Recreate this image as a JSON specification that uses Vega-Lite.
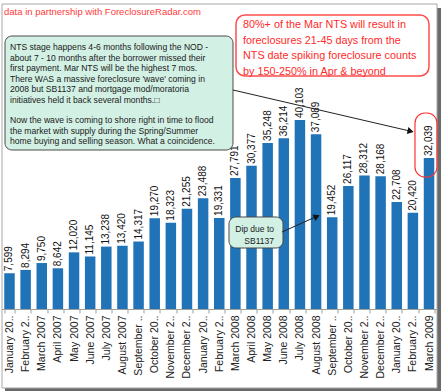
{
  "$schema": "https://vega.github.io/schema/vega-lite/v6.json",
  "width": 435.5,
  "height": 309,
  "autosize": {"type": "none"},
  "padding": {"left": 1.5, "top": 0, "right": 5, "bottom": 82},
  "background": "white",
  "config": {"view": {"stroke": null}, "font": "Liberation Sans"},
  "datasets": {
    "months": [
      {"m": "January 2007", "v": 7599},
      {"m": "February 2007", "v": 8294},
      {"m": "March 2007", "v": 9750},
      {"m": "April 2007", "v": 8642},
      {"m": "May 2007", "v": 12020},
      {"m": "June 2007", "v": 11145},
      {"m": "July 2007", "v": 13238},
      {"m": "August 2007", "v": 13420},
      {"m": "September 2007", "v": 14317},
      {"m": "October 2007", "v": 19270},
      {"m": "November 2007", "v": 18323},
      {"m": "December 2007", "v": 21255},
      {"m": "January 2008", "v": 23488},
      {"m": "February 2008", "v": 19331},
      {"m": "March 2008", "v": 27791},
      {"m": "April 2008", "v": 30377},
      {"m": "May 2008", "v": 35248},
      {"m": "June 2008", "v": 36214},
      {"m": "July 2008", "v": 40103},
      {"m": "August 2008", "v": 37089},
      {"m": "September 2008", "v": 19452},
      {"m": "October 2008", "v": 26117},
      {"m": "November 2008", "v": 28312},
      {"m": "December 2008", "v": 28168},
      {"m": "January 2009", "v": 22708},
      {"m": "February 2009", "v": 20420},
      {"m": "March 2009", "v": 32039}
    ],
    "shadow": [{"x": -0.283, "x2": 26.748, "y": 63867, "y2": -17399}],
    "frame": [{"x": -0.469, "x2": 26.5, "y": 64716, "y2": -16762}],
    "title": [{"x": -0.345, "y": 63018, "t": "data in partnership with ForeclosureRadar.com"}],
    "greenBoxes": [
      {"x": -0.283, "x2": 13.852, "y": 57926, "y2": 33737},
      {"x": 13.604, "x2": 16.952, "y": 19521, "y2": 12943}
    ],
    "greenText": [
      {"x": 0.027, "y": 55529, "t": "NTS stage happens 4-6 months following the NOD -\nabout 7 - 10 months after the borrower missed their\nfirst payment. Mar NTS will be the highest 7 mos.\nThere WAS a massive foreclosure 'wave' coming in\n2008 but SB1137 and mortgage mod/moratoria\ninitiatives held it back several months.\u25a1"},
      {"x": 0.027, "y": 40100, "t": "Now the wave is coming to shore right in time to flood\nthe market with supply during the Spring/Summer\nhome buying and selling season. What a coincidence."}
    ],
    "dipText": [{"x": 16.394, "y": 16975, "t": "Dip due to\nSB1137"}],
    "redBox": [{"x": 14.038, "x2": 26.003, "y": 62382, "y2": 49439}],
    "redText": [{"x": 14.472, "y": 60260, "t": "80%+ of the Mar NTS will result in\nforeclosures 21-45 days from the\nNTS date spiking foreclosure counts\nby 150-250% in Apr & beyond"}],
    "redRing": [{"x": 25.135, "x2": 26.5, "y": 41588, "y2": 28008}],
    "arrowLines": [
      {"x": 13.852, "y": 46468, "x2": 24.863, "y2": 37726},
      {"x": 16.890, "y": 16338, "x2": 19.047, "y2": 19648}
    ],
    "arrowHeads": [
      {"x": 24.863, "y": 37726, "a": 13},
      {"x": 19.047, "y": 19648, "a": -24}
    ]
  },
  "resolve": {"scale": {"x": "independent"}},
  "layer": [
    {
      "layer": [
        {
          "data": {"name": "shadow"},
          "mark": {"type": "rect", "fill": "#6a6a6a"},
          "encoding": {
            "x": {"field": "x", "type": "quantitative", "scale": {"domain": [-0.5, 26.5], "nice": false, "zero": false}, "axis": null},
            "x2": {"field": "x2"},
            "y": {"field": "y", "type": "quantitative", "scale": {"domain": [0, 65565], "nice": false}, "axis": null},
            "y2": {"field": "y2"}
          }
        },
        {
          "data": {"name": "frame"},
          "mark": {"type": "rect", "fill": "white", "stroke": "#a8a8a8", "strokeWidth": 1},
          "encoding": {
            "x": {"field": "x", "type": "quantitative", "scale": {"domain": [-0.5, 26.5], "nice": false, "zero": false}, "axis": null},
            "x2": {"field": "x2"},
            "y": {"field": "y", "type": "quantitative", "scale": {"domain": [0, 65565], "nice": false}, "axis": null},
            "y2": {"field": "y2"}
          }
        }
      ]
    },
    {
      "data": {"name": "months"},
      "encoding": {
        "x": {
          "field": "m", "type": "nominal", "sort": null,
          "scale": {"paddingInner": 0.35, "paddingOuter": 0.17},
          "axis": {
            "title": null, "labelAngle": 270, "labelFontSize": 10.5, "labelColor": "#222",
            "labelFont": "Liberation Sans", "tickBand": "extent", "tickColor": "#a0a0a0", "tickSize": 4,
            "domainColor": "#a0a0a0", "labelPadding": 2, "zindex": 1,
            "labelExpr": "length(datum.label) > 11 ? slice(datum.label, 0, 10) + '..' : datum.label"
          }
        },
        "y": {"field": "v", "type": "quantitative", "scale": {"domain": [0, 65565], "nice": false}, "axis": null}
      },
      "layer": [
        {"mark": {"type": "bar", "color": "#1f73b6"}},
        {
          "mark": {"type": "text", "angle": 270, "align": "left", "baseline": "middle", "dx": 2, "fontSize": 10, "color": "#111"},
          "encoding": {"text": {"field": "v", "type": "quantitative", "format": ","}}
        }
      ]
    },
    {
      "encoding": {
        "x": {"field": "x", "type": "quantitative", "scale": {"domain": [-0.5, 26.5], "nice": false, "zero": false}, "axis": null},
        "y": {"field": "y", "type": "quantitative", "scale": {"domain": [0, 65565], "nice": false}, "axis": null}
      },
      "layer": [
        {
          "data": {"name": "title"},
          "mark": {"type": "text", "align": "left", "baseline": "middle", "fontSize": 9.5, "color": "#ff3b3b"},
          "encoding": {"text": {"field": "t"}}
        },
        {
          "data": {"name": "greenBoxes"},
          "mark": {"type": "rect", "fill": "#d3f0e5", "stroke": "#4a4a4a", "strokeWidth": 1, "cornerRadius": 7},
          "encoding": {"x2": {"field": "x2"}, "y2": {"field": "y2"}}
        },
        {
          "data": {"name": "greenText"},
          "mark": {"type": "text", "align": "left", "baseline": "middle", "fontSize": 8.6, "lineHeight": 10.5, "lineBreak": "\n", "color": "#1a1a1a"},
          "encoding": {"text": {"field": "t"}}
        },
        {
          "data": {"name": "dipText"},
          "mark": {"type": "text", "align": "right", "baseline": "middle", "fontSize": 8.5, "lineHeight": 11.7, "lineBreak": "\n", "color": "#1a1a1a"},
          "encoding": {"text": {"field": "t"}}
        },
        {
          "data": {"name": "redBox"},
          "mark": {"type": "rect", "fill": "white", "stroke": "#ff4d4d", "strokeWidth": 1.5, "cornerRadius": 9},
          "encoding": {"x2": {"field": "x2"}, "y2": {"field": "y2"}}
        },
        {
          "data": {"name": "redText"},
          "mark": {"type": "text", "align": "left", "baseline": "middle", "fontSize": 10.8, "lineHeight": 15.6, "lineBreak": "\n", "color": "#ff2a2a"},
          "encoding": {"text": {"field": "t"}}
        },
        {
          "data": {"name": "redRing"},
          "mark": {"type": "rect", "fill": null, "fillOpacity": 0, "stroke": "#ff3333", "strokeWidth": 1.2, "cornerRadius": 10},
          "encoding": {"x2": {"field": "x2"}, "y2": {"field": "y2"}}
        },
        {
          "data": {"name": "arrowLines"},
          "mark": {"type": "rule", "color": "#222", "strokeWidth": 1},
          "encoding": {"x2": {"field": "x2"}, "y2": {"field": "y2"}}
        },
        {
          "data": {"name": "arrowHeads"},
          "mark": {"type": "point", "shape": "triangle-right", "filled": true, "color": "#111", "size": 50, "opacity": 1},
          "encoding": {"angle": {"field": "a", "type": "quantitative", "scale": null}}
        }
      ]
    }
  ]
}
